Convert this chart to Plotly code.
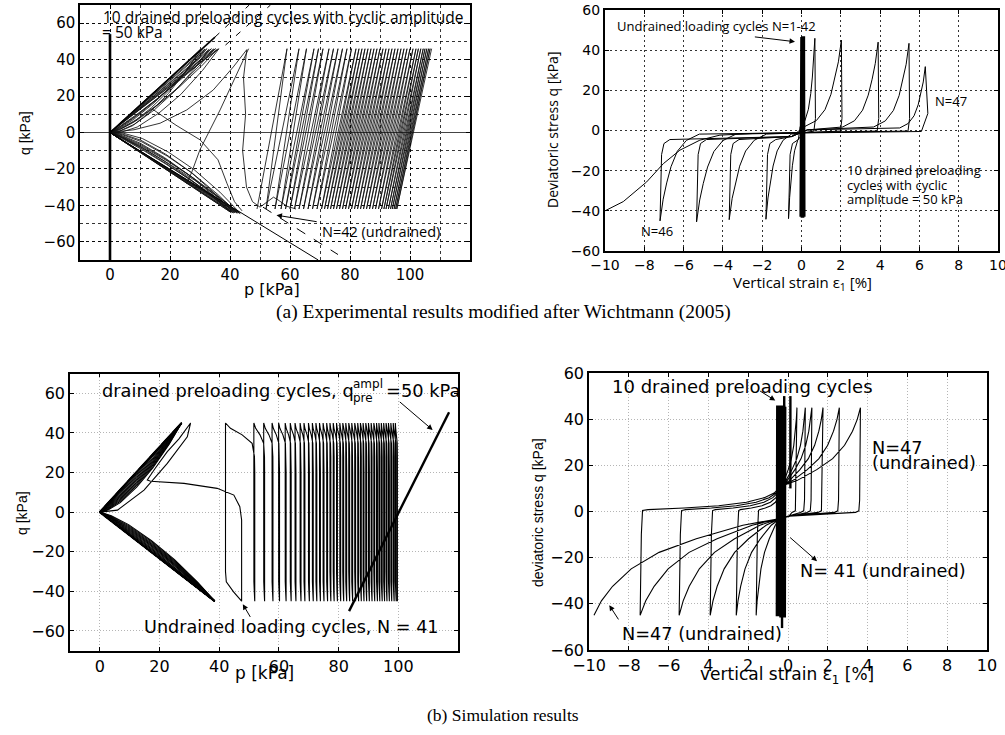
import plotly.graph_objects as go

W, H = 1005, 735

# ======================= (a) left : experimental p-q =======================
a1_axis_p = [0, 0]
a1_axis_q = [-70, 54]
a1_csl_up_p = [0, 35.0]
a1_csl_up_q = [0, 52.4]
a1_csl_up_ext_p = [35.0, 46.4]
a1_csl_up_ext_q = [52.4, 70.0]
a1_csl_dn_p = [0, 69.4]
a1_csl_dn_q = [0, -70.0]
a1_dash_up_p = [38.5, 53.5]
a1_dash_up_q = [48.0, 70.0]
a1_dash_dn_p = [51.0, 76.0]
a1_dash_dn_q = [-41.0, -67.0]

a1_drained_top_p = [30.0, 30.8, 31.6, 32.3, 33.0, 33.8, 34.6, 35.2, 35.8, 36.3]
a1_drained_top_q = [45.5, 46.0, 45.8, 46.0, 45.6, 46.0, 45.9, 46.0, 45.7, 46.0]
a1_drained_top_bow = [9, 7, 5, 4, 8, 3, 6, 2, 5, 10]
a1_drained_bot_p = [40.0, 40.4, 40.8, 41.2, 41.6, 42.0, 42.4, 42.8, 43.1, 43.4]
a1_drained_bot_q = [-43.5, -44.0, -43.8, -44.2, -44.0, -43.6, -44.3, -44.0, -43.8, -44.5]
a1_drained_bot_bow = [4, 6, 3, 8, 5, 2, 7, 4, 9, 3]

a1_trans_up_p = [0, 8, 16.7, 25.6, 34.4, 41.1, 45.6]
a1_trans_up_q = [0, 1.5, 5.1, 12.4, 23.3, 36.0, 45.5]
a1_trans_down_p = [45.6, 44.5, 45.2, 44.2, 45.5, 47.5, 50.0]
a1_trans_down_q = [45.5, 30.0, 10.0, -10.0, -30.0, -38.0, -41.0]
a1_trans_b_p = [14, 22, 30, 36, 39, 41.5, 44]
a1_trans_b_q = [13, 4, -4, -15, -28, -38, -43]
a1_trans_c_p = [25.5, 27.2, 30.0, 36.7, 44.4, 46.2]
a1_trans_c_q = [-28.0, -22.0, -9.4, 12.4, 39.7, 46.0]
a1_hump_p = [50, 53, 54.5, 56, 59, 62]
a1_hump_q = [-41, -37, -35.5, -37, -40.5, -42]

a1_und_top_p = [59, 63, 65.5, 68, 69.5, 71, 73, 74.5, 76, 77.5, 79, 80.5, 82, 83, 84, 85,
                86, 87, 88, 89, 90, 91, 92, 93, 94, 95, 96, 97, 98, 99, 100, 101, 102,
                102.8, 103.6, 104.4, 105, 105.6, 106.2, 106.7, 107.2]
a1_und_bot_p = [49, 52, 55, 57, 58.5, 60, 61.5, 63, 64.5, 66, 67.5, 69, 70.5, 71.5, 72.5,
                73.5, 74.5, 75.5, 76.5, 77.5, 78.5, 79.5, 80.5, 81.5, 82.5, 83.5, 84.5,
                85.5, 86.5, 87.5, 88.5, 89.5, 90.5, 91.3, 92.0, 92.8, 93.5, 94.1, 94.7,
                95.2, 95.6]
a1_und_top_q = 46.0
a1_und_bot_q = -42.0

# ======================= (a) right : experimental strain-q =======================
a2_bundle_x = [-0.06, -0.02, 0.02, 0.06, 0.10, 0.14]
a2_bundle_top_q = 46.5
a2_bundle_bot_q = -43.0
a2_trough_x = [-0.66, -1.81, -3.68, -5.34, -7.2]
a2_trough_q = [-43.9, -44.2, -44.4, -45.5, -45.0]
a2_fall_w = [0.7, 1.3, 1.9, 2.0, 2.0]
a2_peak_x = [0.68, 2.03, 3.9, 5.47, 6.3]
a2_peak_q = [45.9, 45.0, 44.0, 43.4, 31.8]
a2_rise_w = [0.75, 1.9, 1.8, 1.8, 1.3]
a2_tail_x = [6.43, 6.1, 2.0, -2.5, -4.15, -5.17, -6.19, -7.03, -7.88, -9.07, -10.0]
a2_tail_q = [8.5, -0.5, -1.0, -1.5, -2.3, -4.8, -9.8, -16.5, -25.6, -35.4, -40.0]
a2_curve_norm = [-1.0, -0.67, -0.44, -0.28, -0.17, -0.08, 0.0]
a2_curve_frac = [0.04, 0.11, 0.23, 0.40, 0.58, 0.76, 1.0]
a2_load_band_x = [-0.5, 0.3]
a2_load_band_q = [-3.0, 0.3]
a2_unload_band_x = [0.2, -1.0]
a2_unload_band_q = [-1.0, -1.3]

# ======================= (b) left : simulated p-q =======================
b1_ref_p = [83.5, 117.0]
b1_ref_q = [-50.0, 50.4]
b1_dr_top_p, b1_dr_top_q = 27.4, 45.0
b1_dr_bot_p, b1_dr_bot_q = 38.5, -45.0
b1_dr_up_bow = [0.5, 1.2, 2.0, 2.8, 3.6, 4.4, 5.2, 6.0, 6.8, 7.6]
b1_dr_dn_bow = [0.4, 1.0, 1.6, 2.2, 2.8, 3.4, 4.0, 4.6, 5.2, 5.8]
b1_first_p = [0, 5.9, 14.8, 22.6, 29.3, 30.4, 26.5, 22.6, 18.5, 15.9, 17.0, 28.2, 39.3,
              44.9, 46.9, 47.5, 47.5]
b1_first_q = [0, 1.0, 11.1, 24.6, 38.0, 45.0, 37.0, 30.5, 22.0, 16.2, 15.6, 14.5, 12.0,
              8.6, 2.7, -4.0, -45.0]
b1_und_L = [42.1, 51.6, 54.9, 57.7, 59.9, 62.1, 63.8, 65.4, 67.1, 68.4, 69.9, 71.2, 72.4,
            73.6, 74.8, 76.0, 77.1, 78.2, 79.3, 80.4, 81.4, 82.4, 83.4, 84.4, 85.4, 86.4,
            87.3, 88.2, 89.1, 90.0, 90.9, 91.8, 92.7, 93.5, 94.3, 95.1, 95.9, 96.7, 97.5,
            98.3, 99.0]
b1_und_R = [51.9, 55.2, 58.0, 60.2, 62.4, 64.1, 65.7, 67.4, 68.7, 70.2, 71.5, 72.7, 73.9,
            75.1, 76.3, 77.4, 78.5, 79.6, 80.7, 81.7, 82.7, 83.7, 84.7, 85.7, 86.7, 87.6,
            88.5, 89.4, 90.3, 91.2, 92.1, 93.0, 93.8, 94.6, 95.4, 96.2, 97.0, 97.8, 98.6,
            99.3, 99.7]
b1_top_frac = [0.0, 0.17, 0.57, 0.91, 0.99, 1.0]
b1_top_q = [45.0, 42.3, 39.0, 34.7, 28.0, 20.0]
b1_bot_frac = [0.0, 0.5, 0.95, 1.0]
b1_bot_q = [-45.0, -40.3, -35.2, -30.0]

# ======================= (b) right : simulated strain-q =======================
b2_bundle_x = [-0.56, -0.50, -0.45, -0.40, -0.35, -0.30, -0.25, -0.20, -0.16]
b2_bundle_top = 45.4
b2_bundle_bot = -45.4
b2_spike_x = [-0.30, -0.19, 0.12]
b2_spike_lo = [-50.5, -5.0, 10.0]
b2_spike_hi = [-5.0, 50.0, 50.0]
b2_center_up = (-0.35, 11.0)
b2_center_dn = (-0.40, -3.0)
b2_peak_x = [0.45, 0.87, 1.2, 1.76, 2.58, 3.64]
b2_peak_q = 45.0
b2_trough_x = [-1.6, -2.6, -3.91, -5.47, -7.43, -9.75]
b2_trough_q = -45.0
b2_curve_t = [0, 0.2, 0.45, 0.65, 0.8, 0.9, 0.96, 1.0]
b2_curve_f = [0, 0.07, 0.21, 0.35, 0.52, 0.7, 0.85, 1.0]
b2_ret_t = [0, 0.04, 0.3, 0.55, 0.75, 0.88, 0.95, 1.0]
b2_ret_q = [0.4, 0.8, 1.5, 2.5, 4.0, 6.0, 8.0, 11.0]

# ======================= path builders =======================
def join(paths):
    xs, ys = [], []
    for a, b in paths:
        xs += list(a) + [None]
        ys += list(b) + [None]
    return xs, ys

LOOP_F = [0.85, 0.65, 0.45, 0.25, 0.1, 0.0]
LOOP_W = [0.5, 0.9, 1.0, 0.85, 0.45, 0.0]

def loop(tp, tq, bow, side):
    xs = [0.0, 0.5 * tp, tp]
    ys = [0.0, 0.5 * tq, tq]
    for f, w in zip(LOOP_F, LOOP_W):
        xs.append(f * tp)
        ys.append(f * tq + side * w * bow)
    return xs, ys

# (a) left
a1_loops = []
for tp, tq, bw, bp, bq, bb in zip(a1_drained_top_p, a1_drained_top_q, a1_drained_top_bow,
                                  a1_drained_bot_p, a1_drained_bot_q, a1_drained_bot_bow):
    a1_loops.append(loop(tp, tq, bw, -1))
    a1_loops.append(loop(bp, bq, bb, +1))
zz_p, zz_q = [], []
for b, t in zip(a1_und_bot_p, a1_und_top_p):
    zz_p += [b, t]
    zz_q += [a1_und_bot_q, a1_und_top_q]
a1_x, a1_y = join(a1_loops + [(a1_trans_up_p, a1_trans_up_q), (a1_trans_down_p, a1_trans_down_q),
                              (a1_trans_b_p, a1_trans_b_q), (a1_trans_c_p, a1_trans_c_q),
                              (a1_hump_p, a1_hump_q), (zz_p, zz_q)])

# (a) right
bx, by = [], []
for i, x0 in enumerate(a2_bundle_x):
    if i % 2 == 0:
        bx += [x0, x0 + 0.02]; by += [a2_bundle_bot_q, a2_bundle_top_q]
    else:
        bx += [x0, x0 + 0.02]; by += [a2_bundle_top_q, a2_bundle_bot_q]

a2x, a2y = [0.1], [-1.2]
n2 = len(a2_trough_x)
for k in range(n2):
    xt, qt, wf = a2_trough_x[k], a2_trough_q[k], a2_fall_w[k]
    for c, f in zip(a2_curve_norm, a2_curve_frac):
        a2x.append(xt - c * wf); a2y.append(qt * f)
    a2x += [xt + 0.08, xt + 0.2, xt + 0.5]; a2y += [-12.0, -6.5, -4.5]
    xp, qp, wr = a2_peak_x[k], a2_peak_q[k], a2_rise_w[k]
    for fx, fy in zip(a2_load_band_x, a2_load_band_q):
        if a2x[-1] < fx < xp - wr:
            a2x.append(fx); a2y.append(fy)
    for c, f in zip(a2_curve_norm, a2_curve_frac):
        a2x.append(xp + c * wr); a2y.append(qp * f)
    if k == n2 - 1:
        a2x += a2_tail_x; a2y += a2_tail_q
    else:
        a2x += [xp + 0.03, xp - 0.05]; a2y += [6.0, -0.3]
        nxt = a2_trough_x[k + 1] + a2_fall_w[k + 1]
        for fx, fy in zip(a2_unload_band_x, a2_unload_band_q):
            if nxt < fx < a2x[-1]:
                a2x.append(fx); a2y.append(fy)

# (b) left
b1_loops = []
for ub, db in zip(b1_dr_up_bow, b1_dr_dn_bow):
    b1_loops.append(loop(b1_dr_top_p, b1_dr_top_q, ub, -1))
    b1_loops.append(loop(b1_dr_bot_p, b1_dr_bot_q, db, +1))
ux, uy = list(b1_first_p), list(b1_first_q)
Rprev = b1_first_p[-1]
for L, R in zip(b1_und_L, b1_und_R):
    for fr, q in zip(b1_bot_frac, b1_bot_q):
        ux.append(Rprev + fr * (L - Rprev)); uy.append(q)
    for fr, q in zip(b1_top_frac, b1_top_q):
        ux.append(L + fr * (R - L)); uy.append(q)
    ux += [R, R]; uy += [-40.0, -45.0]
    Rprev = R
b1_x, b1_y = join(b1_loops + [(ux, uy)])

# (b) right
b2bx, b2by = [], []
for i, x0 in enumerate(b2_bundle_x):
    if i % 2 == 0:
        b2bx += [x0, x0 + 0.02]; b2by += [b2_bundle_bot, b2_bundle_top]
    else:
        b2bx += [x0, x0 + 0.02]; b2by += [b2_bundle_top, b2_bundle_bot]
sp = [([x, x], [lo, hi]) for x, lo, hi in zip(b2_spike_x, b2_spike_lo, b2_spike_hi)]
b2bx2, b2by2 = join([(b2bx, b2by)] + sp)

x0, q0 = b2_center_up
xc, qc = b2_center_dn
b2x, b2y = [x0], [q0]
for k in range(len(b2_peak_x)):
    xp = b2_peak_x[k]
    for t, f in zip(b2_curve_t, b2_curve_f):
        b2x.append(x0 + t * (xp - x0)); b2y.append(q0 + f * (b2_peak_q - q0))
    b2x += [xp - 0.04, xp - 0.08]; b2y += [5.0, 0.3]
    if xp - 0.25 > 0.1:
        b2x.append(xp - 0.25); b2y.append(-0.4)
    b2x.append(0.05); b2y.append(-2.0)
    xt = b2_trough_x[k]
    for t, f in zip(b2_curve_t, b2_curve_f):
        b2x.append(xc + t * (xt - xc)); b2y.append(qc + f * (b2_trough_q - qc))
    if k < len(b2_peak_x) - 1:
        b2x.append(xt + 0.06); b2y.append(-10.0)
        for t, q in zip(b2_ret_t, b2_ret_q):
            b2x.append(xt + 0.12 + t * (x0 - xt - 0.12)); b2y.append(q)

# ======================= figure =======================
fig = go.Figure()

def add(xs, ys, xa, ya, width=1.0, dash=None, color='black'):
    fig.add_trace(go.Scatter(x=xs, y=ys, mode='lines', xaxis=xa, yaxis=ya,
                             line=dict(color=color, width=width, dash=dash),
                             hoverinfo='skip', showlegend=False, connectgaps=False))

# (a) left
add(a1_x, a1_y, 'x', 'y', 0.85, color='#111')
add(a1_axis_p, a1_axis_q, 'x', 'y', 2.6)
add(a1_csl_up_p, a1_csl_up_q, 'x', 'y', 1.6)
add(a1_csl_dn_p, a1_csl_dn_q, 'x', 'y', 1.0)
add(a1_csl_up_ext_p, a1_csl_up_ext_q, 'x', 'y', 1.0, '6px,8px')
add(a1_dash_up_p, a1_dash_up_q, 'x', 'y', 1.0, '6px,8px')
add(a1_dash_dn_p, a1_dash_dn_q, 'x', 'y', 1.0, '10px,10px')
# (a) right
add(bx, by, 'x2', 'y2', 1.8)
add(a2x, a2y, 'x2', 'y2', 1.0)
# (b) left
add(b1_x, b1_y, 'x3', 'y3', 1.1)
add([0, b1_dr_top_p], [0, b1_dr_top_q], 'x3', 'y3', 2.2)
add([0, b1_dr_bot_p], [0, b1_dr_bot_q], 'x3', 'y3', 2.2)
add(b1_ref_p, b1_ref_q, 'x3', 'y3', 2.4)
# (b) right
add(b2bx2, b2by2, 'x4', 'y4', 2.4)
add(b2x, b2y, 'x4', 'y4', 1.1)

TF = "DejaVu Sans"

def axis(domain, rng, tickvals, ticktext, size, gridcolor, griddash, minor=None, linew=1.5,
         gridwidth=1):
    d = dict(domain=domain, range=rng, tickvals=tickvals, ticktext=ticktext,
             showgrid=True, gridcolor=gridcolor, griddash=griddash, gridwidth=gridwidth,
             zeroline=False, showline=True, linecolor='black', linewidth=linew,
             mirror='ticks', ticks='inside', ticklen=4, tickcolor='black', automargin=False,
             ticklabeloverflow='allow',
             tickfont=dict(family=TF, size=size, color='black'), fixedrange=True)
    if minor is not None:
        d['minor'] = dict(dtick=minor, showgrid=True, gridcolor=gridcolor, griddash=griddash,
                          gridwidth=gridwidth, ticks='')
    return d

def lab(v):
    return [("\u2212" + str(-x)) if x < 0 else str(x) for x in v]

a1_xt = [0, 20, 40, 60, 80, 100]
a1_yt = [-60, -40, -20, 0, 20, 40, 60]
a2_xt = [-10, -8, -6, -4, -2, 0, 2, 4, 6, 8, 10]
a2_yt = [-60, -40, -20, 0, 20, 40, 60]
b2_xtext = ["\u221210", "\u22128", "\u22126", "4", "2", "0", "2", "4", "6", "8", "10"]

dark = 'rgba(0,0,0,0.8)'
light = 'rgba(150,150,150,0.7)'
xa1 = axis([80 / W, 470 / W], [-10, 120], a1_xt, lab(a1_xt), 15, dark, '3px,3px', minor=10, gridwidth=0.8)
xa1['minor']['tick0'] = 0
ya1 = axis([1 - 260 / H, 1 - 5 / H], [-70, 70], a1_yt, lab(a1_yt), 15, dark, '3px,3px', minor=10, gridwidth=0.8)
ya1['minor']['tick0'] = 0
ya1['zeroline'] = True
ya1['zerolinecolor'] = '#444'
ya1['zerolinewidth'] = 1.3
xa2 = axis([605 / W, 998 / W], [-10, 10], a2_xt, lab(a2_xt), 14, dark, '2px,3px', linew=2)
ya2 = axis([1 - 251 / H, 1 - 10 / H], [-60, 60], a2_yt, lab(a2_yt), 14, dark, '2px,3px', linew=2)
xa3 = axis([70 / W, 458 / W], [-10, 120], a1_xt, lab(a1_xt), 16, light, '1px,2px')
ya3 = axis([1 - 650.7 / H, 1 - 373.5 / H], [-70, 70], a1_yt, lab(a1_yt), 16, light, '1px,2px')
xa4 = axis([589 / W, 987 / W], [-10, 10], a2_xt, b2_xtext, 16, light, '1px,2px')
ya4 = axis([1 - 650 / H, 1 - 373 / H], [-60, 60], a2_yt, lab(a2_yt), 16, light, '1px,2px')
for a, yname in ((xa1, 'y'), (xa2, 'y2'), (xa3, 'y3'), (xa4, 'y4')):
    a['anchor'] = yname
for a, xname in ((ya1, 'x'), (ya2, 'x2'), (ya3, 'x3'), (ya4, 'x4')):
    a['anchor'] = xname

ann = []

def txt(x, y, s, size, family, xanchor='left', angle=0):
    ann.append(dict(x=x / W, y=1 - y / H, xref='paper', yref='paper', text=s, showarrow=False,
                    xanchor=xanchor, yanchor='middle', textangle=angle,
                    font=dict(family=family, size=size, color='black')))

def arrow(xr, yr, x, y, ax, ay):
    ann.append(dict(x=x, y=y, ax=ax, ay=ay, xref=xr, yref=yr, axref=xr, ayref=yr, text='',
                    showarrow=True, arrowhead=2, arrowsize=1.1, arrowwidth=1, arrowcolor='black'))

OS = "Open Sans"
LS = "Liberation Sans"
# (a) left
txt(101, 17, "10 drained preloading cycles with cyclic amplitude", 15.5, OS)
txt(100, 32, "= 50 kPa", 15.5, OS)
txt(320, 232, "N=42 (undrained)", 14.5, OS)
arrow('x', 'y', 55.5, -45.4, 69.4, -49.1)
txt(25, 133, "q [kPa]", 14, LS, 'center', -90)
txt(272, 289, "p [kPa]", 16, TF, 'center')
# (a) right
txt(615, 26.5, "Undrained loading cycles N=1-42", 13, OS)
arrow('x2', 'y2', -0.33, 44.2, -2.45, 46.7)
txt(951, 101, "N=47", 13, OS, 'center')
txt(657, 231, "N=46", 13, OS, 'center')
txt(845, 170, "10 drained preloading", 13, OS)
txt(845, 185, "cycles with cyclic", 13, OS)
txt(845, 199, "amplitude = 50 kPa", 13, OS)
txt(553, 130, "Deviatoric stress q [kPa]", 14, OS, 'center', -90)
txt(802, 283, "Vertical strain \u03b5<sub>1</sub> [%]", 15, OS, 'center')
# (b) left
txt(100, 390, "drained preloading cycles, q", 17.8, TF)
txt(351, 384, "ampl", 12, TF)
txt(351, 398, "pre", 12, TF)
txt(384, 390, "=50 kPa", 17.8, TF)
txt(142, 627, "Undrained loading cycles, N = 41", 17.6, TF)
arrow('x3', 'y3', 47.9, -46.5, 50.7, -53.7)
arrow('x3', 'y3', 111.5, 41.5, 100.0, 56.3)
txt(22, 513, "q [kPa]", 14, LS, 'center', -90)
txt(264, 673, "p [kPa]", 17, TF, 'center')
# (b) right
txt(610, 386, "10 drained preloading cycles", 18, TF)
arrow('x4', 'y4', -0.64, 48.1, -1.48, 52.6)
txt(870, 448, "N=47", 17.7, TF)
txt(870, 463, "(undrained)", 17.7, TF)
txt(798, 571, "N= 41 (undrained)", 17.7, TF)
arrow('x4', 'y4', 1.46, -21.5, 0.03, -10.7)
txt(620, 634, "N=47 (undrained)", 17.7, TF)
arrow('x4', 'y4', -8.98, -40.6, -8.47, -47.4)
txt(538, 513, "deviatoric stress q [kPa]", 14, LS, 'center', -90)
txt(787, 675, "vertical strain \u03b5<sub>1</sub> [%]", 17, TF, 'center')
# captions
txt(504, 312, "(a) Experimental results modified after Wichtmann (2005)", 19.5, "Liberation Serif", 'center')
txt(503, 715, "(b) Simulation results", 17.5, "Liberation Serif", 'center')

fig.update_layout(width=W, height=H, margin=dict(l=0, r=0, t=0, b=0, autoexpand=False),
                  paper_bgcolor='white', plot_bgcolor='white', showlegend=False,
                  xaxis=xa1, yaxis=ya1, xaxis2=xa2, yaxis2=ya2,
                  xaxis3=xa3, yaxis3=ya3, xaxis4=xa4, yaxis4=ya4,
                  annotations=ann)
fig.write_html("out.html", config={'displayModeBar': False},
               post_script="document.body.style.margin='0';document.body.style.overflow='hidden';")
